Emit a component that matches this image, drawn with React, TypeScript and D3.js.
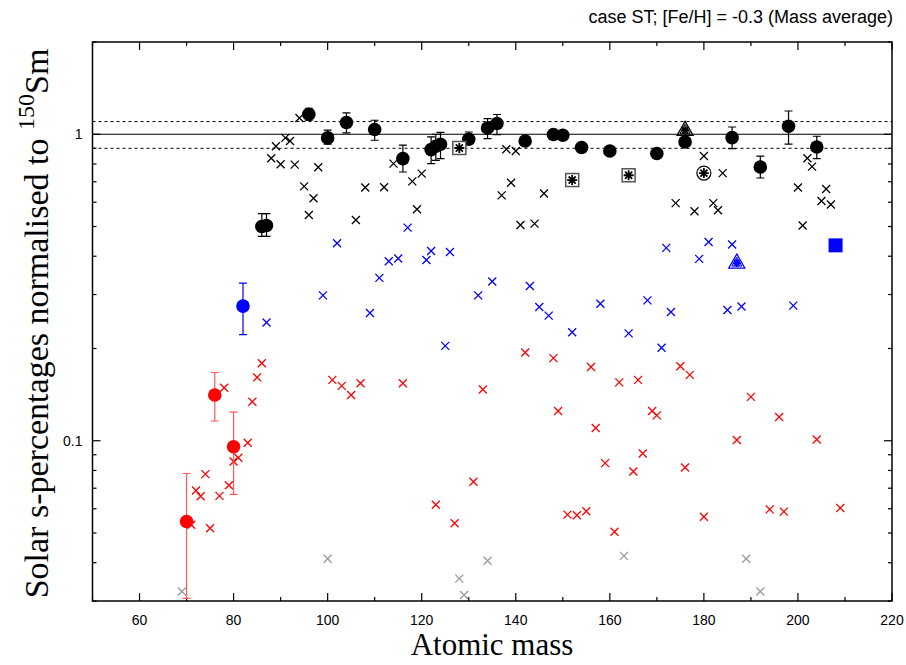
import * as d3 from "d3";
import React, { useEffect, useRef } from "react";

// s-only isotopes: [mass, value, errLow, errHigh] (err 0 = no bar)
const blackCircles = [
  [86, 0.5, 0.464, 0.551], [87, 0.504, 0.464, 0.551], [96, 1.162, 1.111, 1.216],
  [100, 0.973, 0.928, 1.031], [104, 1.092, 1.01, 1.174], [110, 1.036, 0.956, 1.111],
  [116, 0.833, 0.753, 0.921], [122, 0.891, 0.802, 0.98], [123, 0.914, 0.822, 1.0],
  [124, 0.928, 0.833, 1.015], [130, 0.963, 0.93, 1.017], [134, 1.048, 0.968, 1.125],
  [136, 1.084, 0.998, 1.16], [142, 0.951, 0, 0], [148, 0.998, 0, 0], [150, 0.993, 0, 0],
  [154, 0.905, 0, 0], [160, 0.882, 0, 0], [170, 0.865, 0, 0], [176, 0.944, 0, 0],
  [186, 0.975, 0.898, 1.056], [192, 0.782, 0.72, 0.849], [198, 1.062, 0.928, 1.191],
  [204, 0.909, 0.833, 0.985],
];
const blueCircles = [[82, 0.275, 0.222, 0.327]];
const redCircles = [
  [70, 0.0545, 0.0306, 0.0782], [76, 0.141, 0.116, 0.167], [80, 0.0956, 0.0668, 0.124],
];
const boxedStars = [[128, 0.902], [152, 0.709], [164, 0.735]];
const circledStars = [[180, 0.747]];
const blackTriangles = [[176, 1.03]];
const blueTriangles = [[187, 0.38]];
const blueSquares = [[208, 0.434]];

const blackCrosses = [
  [88, 0.835], [89, 0.914], [90, 0.798], [91, 0.973], [92, 0.951], [93, 0.796], [94, 1.13],
  [95, 0.676], [96, 0.545], [97, 0.618], [98, 0.78], [106, 0.525], [108, 0.67], [112, 0.672],
  [114, 0.802], [118, 0.702], [119, 0.569], [120, 0.744], [137, 0.632], [138, 0.893],
  [139, 0.695], [140, 0.882], [141, 0.506], [144, 0.511], [146, 0.641], [174, 0.596],
  [178, 0.561], [180, 0.849], [182, 0.596], [183, 0.565], [184, 0.747], [200, 0.67],
  [201, 0.504], [202, 0.835], [203, 0.784], [205, 0.606], [206, 0.663], [207, 0.59],
];
const blueCrosses = [
  [87, 0.243], [99, 0.298], [102, 0.441], [109, 0.261], [111, 0.34], [113, 0.385],
  [115, 0.393], [117, 0.496], [121, 0.389], [122, 0.416], [125, 0.204], [126, 0.413],
  [132, 0.298], [135, 0.331], [143, 0.32], [145, 0.273], [147, 0.256], [152, 0.226],
  [158, 0.28], [164, 0.224], [168, 0.287], [171, 0.201], [172, 0.426], [173, 0.263],
  [179, 0.392], [181, 0.445], [185, 0.267], [186, 0.437], [188, 0.274], [199, 0.276],
];
const redCrosses = [
  [71, 0.0532], [72, 0.0688], [73, 0.0659], [74, 0.0778], [75, 0.0518], [77, 0.0661],
  [78, 0.149], [79, 0.0716], [80, 0.0856], [81, 0.088], [83, 0.0985], [84, 0.134],
  [85, 0.161], [86, 0.179], [101, 0.158], [103, 0.151], [105, 0.141], [107, 0.154],
  [116, 0.154], [123, 0.0618], [127, 0.0538], [131, 0.0735], [133, 0.147], [142, 0.194],
  [148, 0.186], [149, 0.125], [151, 0.0574], [153, 0.0571], [155, 0.0589], [156, 0.174],
  [157, 0.11], [159, 0.0845], [161, 0.0505], [162, 0.155], [165, 0.0794], [166, 0.158],
  [167, 0.0909], [169, 0.125], [170, 0.121], [175, 0.175], [176, 0.0818], [177, 0.164],
  [180, 0.0565], [187, 0.1005], [190, 0.139], [194, 0.0597], [196, 0.1195], [197, 0.0587],
  [204, 0.101], [209, 0.0603],
];
const grayCrosses = [
  [69, 0.0322], [100, 0.0412], [128, 0.0355], [129, 0.0314], [134, 0.0406],
  [163, 0.0421], [189, 0.0412], [192, 0.0322],
];

const xTickLabels = [60, 80, 100, 120, 140, 160, 180, 200, 220];
const yTickLabels = [1, 0.1];
const refLines = [1.1, 0.9];

export default function App() {
  const svgRef = useRef(null);
  const width = 906;
  const height = 665;
  const margin = { top: 42, right: 14, bottom: 64, left: 92.5 };

  useEffect(() => {
    const svgEl = d3.select(svgRef.current);
    svgEl.selectAll("*").remove();

    const x = d3.scaleLinear().domain([50, 220]).range([margin.left, width - margin.right]);
    const y = d3.scaleLog().domain([0.03, 2]).range([height - margin.bottom, margin.top]);
    const [x0, x1] = x.range();
    const [y0, y1] = y.range();
    const sans = "'Liberation Sans', Arial, sans-serif";
    const serif = "'Liberation Serif', 'Times New Roman', serif";

    // reference lines
    svgEl.append("line")
      .attr("x1", x0).attr("x2", x1).attr("y1", y(1)).attr("y2", y(1))
      .attr("stroke", "#000").attr("stroke-width", 1);
    svgEl.selectAll(".ref").data(refLines).enter().append("line")
      .attr("x1", x0).attr("x2", x1)
      .attr("y1", (d) => y(d)).attr("y2", (d) => y(d))
      .attr("stroke", "#000").attr("stroke-width", 1).attr("stroke-dasharray", "3,3");

    // ticks, mirrored on all sides
    const g = svgEl.append("g").attr("stroke", "#000").attr("stroke-width", 1.2);
    d3.range(50, 221, 10).forEach((v) => {
      const len = v % 20 === 0 ? 8 : 4;
      g.append("line").attr("x1", x(v)).attr("x2", x(v)).attr("y1", y0).attr("y2", y0 - len);
      g.append("line").attr("x1", x(v)).attr("x2", x(v)).attr("y1", y1).attr("y2", y1 + len);
    });
    const yMinor = [0.03, 0.04, 0.05, 0.06, 0.07, 0.08, 0.09, 0.2, 0.3, 0.4, 0.5, 0.6, 0.7, 0.8, 0.9, 2];
    yMinor.forEach((v) => {
      g.append("line").attr("x1", x0).attr("x2", x0 + 4).attr("y1", y(v)).attr("y2", y(v));
      g.append("line").attr("x1", x1).attr("x2", x1 - 4).attr("y1", y(v)).attr("y2", y(v));
    });
    yTickLabels.forEach((v) => {
      g.append("line").attr("x1", x0).attr("x2", x0 + 8).attr("y1", y(v)).attr("y2", y(v));
      g.append("line").attr("x1", x1).attr("x2", x1 - 8).attr("y1", y(v)).attr("y2", y(v));
    });

    // tick labels
    svgEl.selectAll(".xl").data(xTickLabels).enter().append("text")
      .attr("x", (d) => x(d)).attr("y", y0 + 24)
      .attr("text-anchor", "middle").attr("font-family", sans).attr("font-size", 14)
      .text((d) => d);
    svgEl.selectAll(".yl").data(yTickLabels).enter().append("text")
      .attr("x", x0 - 10).attr("y", (d) => y(d) + 5)
      .attr("text-anchor", "end").attr("font-family", sans).attr("font-size", 14)
      .text((d) => d);

    // crosses
    const cross = (data, color) => {
      const s = 4;
      data.forEach(([m, v]) => {
        const cx = x(m), cy = y(v);
        svgEl.append("path")
          .attr("d", `M${cx - s},${cy - s}L${cx + s},${cy + s}M${cx - s},${cy + s}L${cx + s},${cy - s}`)
          .attr("stroke", color).attr("stroke-width", 1.3).attr("fill", "none");
      });
    };
    cross(grayCrosses, "#999999");
    cross(redCrosses, "#ff0000");
    cross(blueCrosses, "#0000ff");
    cross(blackCrosses, "#000000");

    // error bars + filled circles
    const circles = (data, color, barColor) => {
      data.forEach(([m, v, lo, hi]) => {
        const cx = x(m);
        if (lo > 0) {
          svgEl.append("path")
            .attr("d", `M${cx},${y(lo)}V${y(hi)}M${cx - 4},${y(lo)}H${cx + 4}M${cx - 4},${y(hi)}H${cx + 4}`)
            .attr("stroke", barColor).attr("stroke-width", 1.2).attr("fill", "none");
        }
      });
      data.forEach(([m, v]) => {
        svgEl.append("circle").attr("cx", x(m)).attr("cy", y(v)).attr("r", 6.8).attr("fill", color);
      });
    };
    circles(blackCircles, "#000", "#000");
    circles(blueCircles, "#0000ff", "#0000ff");
    circles(redCircles, "#ff0000", "#ff5a5a");

    const star = (cx, cy, r, color) => {
      const d = d3.range(4).map((i) => {
        const a = (i * Math.PI) / 4;
        return `M${cx - r * Math.cos(a)},${cy - r * Math.sin(a)}L${cx + r * Math.cos(a)},${cy + r * Math.sin(a)}`;
      }).join("");
      svgEl.append("path").attr("d", d).attr("stroke", color).attr("stroke-width", 1.8).attr("fill", "none");
    };

    boxedStars.forEach(([m, v]) => {
      svgEl.append("rect").attr("x", x(m) - 6.5).attr("y", y(v) - 6.5).attr("width", 13).attr("height", 13)
        .attr("fill", "#fff").attr("stroke", "#555").attr("stroke-width", 1.5);
      star(x(m), y(v), 5, "#000");
    });
    circledStars.forEach(([m, v]) => {
      svgEl.append("circle").attr("cx", x(m)).attr("cy", y(v)).attr("r", 7)
        .attr("fill", "#fff").attr("stroke", "#000").attr("stroke-width", 1.2);
      star(x(m), y(v), 5, "#000");
    });
    const triangles = (data, color) => {
      data.forEach(([m, v]) => {
        const cx = x(m), cy = y(v);
        svgEl.append("path")
          .attr("d", `M${cx},${cy - 9}L${cx + 8},${cy + 5}L${cx - 8},${cy + 5}Z`)
          .attr("fill", "none").attr("stroke", color).attr("stroke-width", 1.3);
        svgEl.append("path")
          .attr("d", `M${cx},${cy - 6}L${cx + 5},${cy + 3}L${cx - 5},${cy + 3}Z`)
          .attr("fill", "none").attr("stroke", color).attr("stroke-width", 1);
        star(cx, cy, 4, color);
      });
    };
    triangles(blackTriangles, "#000");
    triangles(blueTriangles, "#0000ff");
    blueSquares.forEach(([m, v]) => {
      svgEl.append("rect").attr("x", x(m) - 7).attr("y", y(v) - 7).attr("width", 14).attr("height", 14)
        .attr("fill", "#0000ff");
    });

    // frame
    svgEl.append("rect").attr("x", x0).attr("y", y1).attr("width", x1 - x0).attr("height", y0 - y1)
      .attr("fill", "none").attr("stroke", "#000").attr("stroke-width", 1.5);

    // titles
    svgEl.append("text").attr("x", 893).attr("y", 23).attr("text-anchor", "end")
      .attr("font-family", sans).attr("font-size", 18)
      .text("case ST; [Fe/H] = -0.3 (Mass average)");
    svgEl.append("text").attr("x", 492).attr("y", 655).attr("text-anchor", "middle")
      .attr("font-family", serif).attr("font-size", 31).text("Atomic mass");
    const yl = svgEl.append("text")
      .attr("transform", `translate(48,${(y0 + y1) / 2 + 2}) rotate(-90)`)
      .attr("text-anchor", "middle").attr("font-family", serif).attr("font-size", 34);
    yl.append("tspan").text("Solar s-percentages normalised to ");
    yl.append("tspan").attr("font-size", 24).attr("dy", -14).text("150");
    yl.append("tspan").attr("dy", 14).text("Sm");
  });

  return (
    <svg
      ref={svgRef}
      width={width}
      height={height}
      style={{ position: "absolute", left: 0, top: 0, background: "#fff" }}
    ></svg>
  );
}
